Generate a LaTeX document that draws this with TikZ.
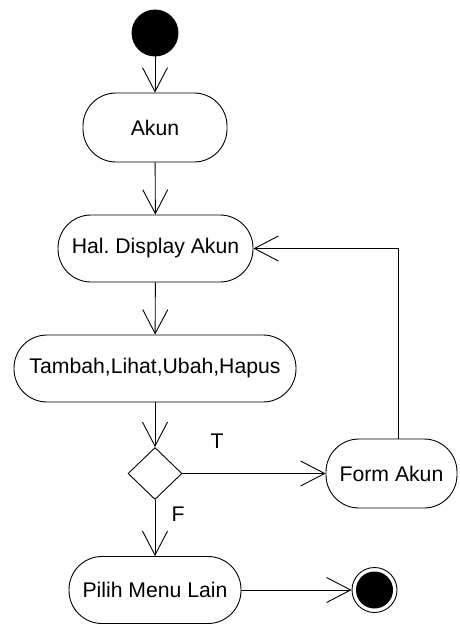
\documentclass[tikz,border=0pt]{standalone}
\usepackage{fontspec}
\setmainfont{Liberation Sans}
\usetikzlibrary{arrows.meta,shapes.geometric}
\frenchspacing
\begin{document}
\begin{tikzpicture}[x=1pt,y=-1pt,
  font=\fontsize{21.2}{24}\selectfont,
  line width=0.9pt,
  act/.style={draw, rectangle, rounded corners=33pt, inner sep=0pt, minimum height=67pt},
  flow/.style={-{Straight Barb[length=24pt,width=25pt,line width=0.9pt]}},
  dec/.style={draw, diamond, aspect=1.04, inner sep=0pt, minimum width=54pt, minimum height=52pt},
  lbl/.style={inner sep=0pt}]
\useasboundingbox (0,0) rectangle (459,624);
\node[circle, fill=black, draw, minimum size=46pt, inner sep=0pt] (start) at (155,33) {};
\node[act, minimum width=144pt, minimum height=69pt] (akun) at (155,127.5) {Akun};
\node[act, minimum width=195pt] (hal) at (155.5,248.5) {Hal.\ Display Akun};
\node[act, minimum width=282pt] (tambah) at (155,368.5) {Tambah,Lihat,Ubah,Hapus};
\node[dec] (d) at (155,473.5) {};
\node[act, minimum width=131pt, minimum height=69pt] (form) at (391.5,473.5) {Form Akun};
\node[act, minimum width=172pt] (pilih) at (155,590) {Pilih Menu Lain};
\node[circle, draw, minimum size=45pt, inner sep=0pt] (end) at (374.5,590) {};
\node[circle, fill=black, minimum size=37pt, inner sep=0pt] at (end.center) {};
\node[lbl] (t) at (217,441) {T};
\node[lbl] (f) at (178,514) {F};
\coordinate (c1) at (398,248.5);
\draw[flow] (start) -- (akun);
\draw[flow] (akun) -- (hal);
\draw[flow] (hal) -- (tambah);
\draw[flow] (tambah) -- (d.north);
\draw[flow] (d.east) -- (form.west);
\draw[flow] (d.south) -- (pilih.north);
\draw[flow] (form.north -| c1) -- (c1) -- (hal.east);
\draw[flow] (pilih.east) -- (end.west);
\end{tikzpicture}
\end{document}
